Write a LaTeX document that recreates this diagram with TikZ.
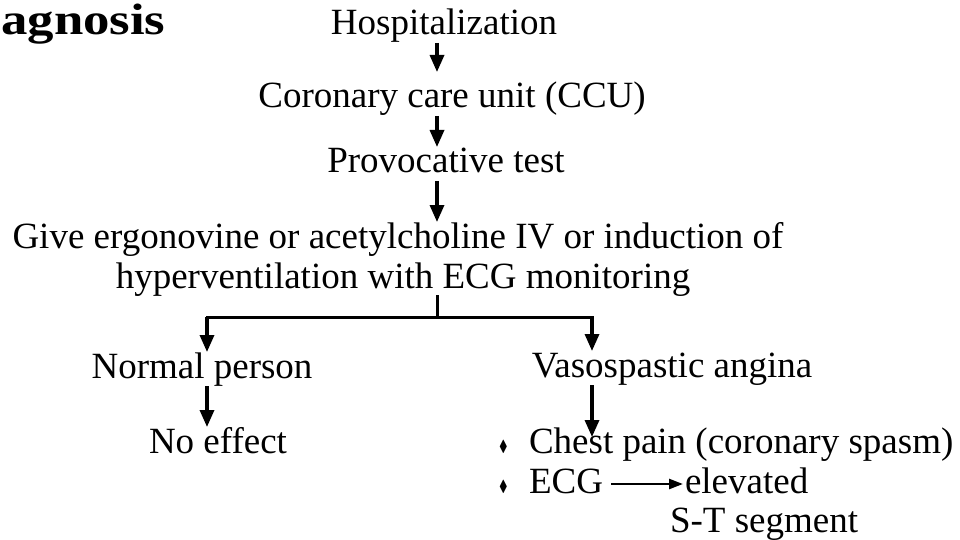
\documentclass[tikz,border=0pt]{standalone}
\usepackage{amssymb}
\usepackage{fontspec}
\setmainfont{Liberation Serif}
\usetikzlibrary{arrows.meta}
\newcommand{\bul}{\makebox[30pt][l]{\raisebox{2pt}{\scalebox{0.8}[1]{\fontsize{16}{16}\selectfont$\blacklozenge$}}}}
\begin{document}
\begin{tikzpicture}[x=1pt,y=-1pt,
    txt/.style={font=\fontsize{37}{44}\selectfont, inner sep=0pt, outer sep=2pt, text height=24pt, text depth=6pt},
    arr/.style={line width=3.3pt, -{Triangle[length=17pt,width=14pt]}},
    smallarr/.style={line width=2.5pt, -{Triangle[length=14pt,width=10pt]}},
    stem/.style={line width=3pt, line cap=rect}]
      \useasboundingbox (0,0) rectangle (960,540);

      \node[anchor=base west, inner sep=0pt, font=\fontsize{44}{50}\selectfont\bfseries] (title) at (1,35) {\scalebox{1.2}[1]{agnosis}};

      \node[txt, anchor=base] (hosp) at (444,35) {Hospitalization};
      \node[txt, anchor=base] (ccu) at (452,108) {Coronary care unit (CCU)};
      \node[txt, anchor=base] (provoc) at (446,173) {Provocative test};
      \node[txt, anchor=base] (give) at (398,248) {Give ergonovine or acetylcholine IV or induction of};
      \node[txt, anchor=base] (hyper) at (403,288) {hyperventilation with ECG monitoring};
      \node[txt, anchor=base] (normal) at (202,378) {Normal person};
      \node[txt, anchor=base] (vaso) at (672,377) {Vasospastic angina};
      \node[txt, anchor=base] (noeff) at (218,453) {No effect};
      \node[txt, anchor=base west] (chest) at (497,453) {\bul Chest pain (coronary spasm)};
      \node[txt, anchor=base west] (ecg) at (497,493) {\bul ECG};
      \node[txt, anchor=base west] (elev) at (683,493) {elevated};
      \node[txt, anchor=base west] (st) at (668,532) {S-T segment};

      \coordinate (axis) at (437,0);
      \coordinate (split) at (437,317);
      \coordinate (Lb) at (207,317);
      \coordinate (Rb) at (592,317);

      \draw (hosp.south -| axis) edge[arr, shorten >=10pt] (ccu.north -| axis);
      \draw (ccu.south -| axis) edge[arr] (provoc.north -| axis);
      \draw (provoc.south -| axis) edge[arr] (give.north -| axis);
      \draw[stem] (hyper.south -| split) -- (split);
      \draw[stem] (Lb) -- (Rb);
      \draw (Lb) edge[arr] (Lb |- normal.north);
      \draw (Rb) edge[arr] (Rb |- vaso.north);
      \draw (normal.south -| Lb) edge[arr] (noeff.north -| Lb);
      \draw (vaso.south -| Rb) edge[arr, shorten >=-10pt] (chest.north -| Rb);
      \draw (ecg.east) edge[smallarr, shorten <=6pt] (elev.west);
    \end{tikzpicture}
\end{document}
